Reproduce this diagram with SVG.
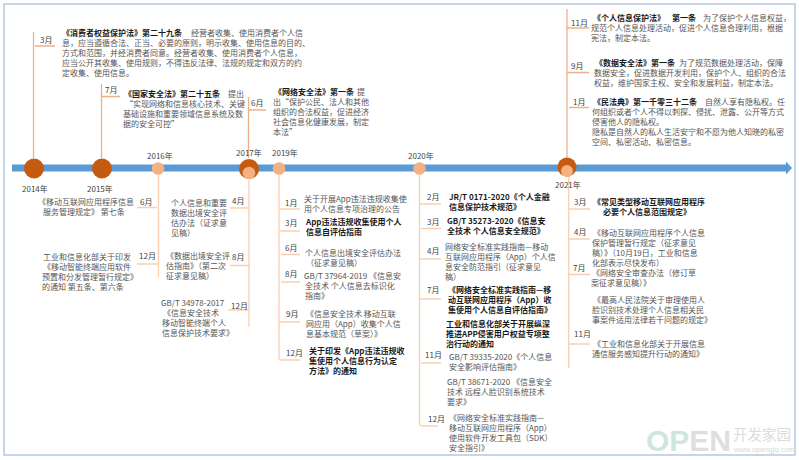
<svg xmlns="http://www.w3.org/2000/svg" width="799" height="460" viewBox="0 0 799 460">
<style>
text{font-family:"Noto Sans CJK SC","Liberation Sans",sans-serif;font-size:8px;fill:#555}
.b{font-weight:700;fill:#1a1a1a}
.m,.y{fill:#444}
.up{stroke:#eeb08c;stroke-width:1.3;fill:none}
.dn{stroke:#f9cfb2;stroke-width:1.3;fill:none}
.big{fill:#c55a11}
.small{fill:#f4b183}
</style>
<rect x="4" y="4" width="791" height="451" fill="#fff" stroke="#b4c7e0" stroke-width="1.5"/>

<g id="connectors">
<path class="up" d="M33.5 32V158M35 46H55M101.5 84V158M102 96.5H120M248.5 97V158M249 110H266M567 9V158M567 28H589M567 72.500H589M569 107.500H589"/>
<path class="dn" d="M158.500 174V277M137 207.500H157M137 264H158M249 180V327M230 208H250M230 265.500H250M228 310H249M279 175V360M280 209H300M280 231H300M281 254.500H300M281 282H300M279 322H300M280 360H300M419.500 175V423Q419.500 426 423 426H438M420 204H441M421 228.500H441M420 259H441M420 299H441M421 363H441M568.700 175V368M569 209H590M569 239H590M569 274.500H590M569 344H590"/>
</g>

<g id="timeline">
<path d="M12 164.500H786V161.500L792 168L786 174.500V171.500H12Z" fill="#5b9bd5"/>
<circle class="big" cx="34" cy="168.500" r="10"/>
<circle class="big" cx="102" cy="168.500" r="10"/>
<circle class="small" cx="158" cy="168.500" r="6.300"/>
<circle class="big" cx="249" cy="169" r="10"/>
<circle class="small" cx="249" cy="173" r="6.300"/>
<circle class="small" cx="279" cy="168.500" r="6.300"/>
<circle class="small" cx="419.500" cy="168.500" r="6.300"/>
<circle class="big" cx="567" cy="167" r="9.500"/>
<circle class="small" cx="567" cy="171" r="6"/>
</g>

<g id="years">
<text class="y" x="22" y="192">2014年</text>
<text class="y" x="87" y="192">2015年</text>
<text class="y" x="147" y="158.500">2016年</text>
<text class="y" x="236" y="156">2017年</text>
<text class="y" x="272" y="156">2019年</text>
<text class="y" x="408" y="159">2020年</text>
<text class="y" x="555" y="188">2021年</text>
</g>

<g id="n2014-03">
<text class="m" x="40" y="43">3月</text>
<text class="b" x="62" y="35.500">《消费者权益保护法》第二十九条</text>
<text x="191" y="35.500">经营者收集、使用消费者个人信</text>
<text x="62" y="45.500">息，应当遵循合法、正当、必要的原则，明示收集、使用信息的目的、</text>
<text x="62" y="55.500">方式和范围，并经消费者同意。经营者收集、使用消费者个人信息，</text>
<text x="62" y="65.500">应当公开其收集、使用规则，不得违反法律、法规的规定和双方的约</text>
<text x="62" y="75.500">定收集、使用信息。</text>
</g>
<g id="n2015-07">
<text class="m" x="105" y="93">7月</text>
<text class="b" x="124" y="96.500">《国家安全法》第二十五条</text>
<text x="228" y="96.500">提出</text>
<text x="125" y="106.500">“实现网络和信息核心技术、关键</text>
<text x="123" y="116.500">基础设施和重要领域信息系统及数</text>
<text x="123" y="126.500">据的安全可控”</text>
</g>
<g id="n2017-06">
<text class="m" x="251" y="106">6月</text>
<text class="b" x="274" y="95">《网络安全法》第一条</text>
<text x="357" y="95">提</text>
<text x="273" y="105">出“保护公民、法人和其他</text>
<text x="273" y="115">组织的合法权益，促进经济</text>
<text x="273" y="125">社会信息化健康发展，制定</text>
<text x="273" y="135">本法”</text>
</g>

<g id="n2016-06">
<text class="m" x="140" y="205">6月</text>
<text x="38" y="205">《移动互联网应用程序信息</text>
<text x="43" y="215">服务管理规定》 第七条</text>
</g>
<g id="n2016-12">
<text class="m" x="139" y="259">12月</text>
<text x="43" y="259.500">工业和信息化部关于印发</text>
<text x="43" y="269.500">《移动智能终端应用软件</text>
<text x="42" y="279.500">预置和分发管理暂行规定》</text>
<text x="42" y="289.500">的通知 第五条、第六条</text>
</g>
<g id="n2017-04">
<text class="m" x="232" y="204">4月</text>
<text x="171" y="206">个人信息和重要</text>
<text x="171" y="216">数据出境安全评</text>
<text x="171" y="226">估办法（证求意</text>
<text x="171" y="236">见稿）</text>
</g>
<g id="n2017-08">
<text class="m" x="232" y="260">8月</text>
<text x="166" y="259">《数据出境安全评</text>
<text x="166" y="269">估指南》（第二次</text>
<text x="166" y="279">征求意见稿）</text>
</g>
<g id="n2017-12">
<text class="m" x="231" y="309">12月</text>
<text x="161" y="305.500">GB/T 34978-2017</text>
<text x="163" y="315.500">《信息安全技术</text>
<text x="162" y="325.500">移动智能终端个人</text>
<text x="162" y="335.500">信息保护技术要求》</text>
</g>

<g id="n2019-01">
<text class="m" x="285" y="206">1月</text>
<text x="304" y="202">关于开展App违法违规收集使</text>
<text x="304" y="212">用个人信息专项治理的公告</text>
</g>
<g id="n2019-03">
<text class="m" x="285" y="226">3月</text>
<text class="b" x="306" y="224.500">App违法违规收集使用个人</text>
<text class="b" x="306" y="235">信息自评估指南</text>
</g>
<g id="n2019-06">
<text class="m" x="285" y="251">6月</text>
<text x="305" y="255.500">个人信息出境安全评估办法</text>
<text x="306" y="265.500">（征求意见稿）</text>
</g>
<g id="n2019-08">
<text class="m" x="285" y="277">8月</text>
<text x="304" y="278.500">GB/T 37964-2019 《信息安</text>
<text x="305" y="288.500">全技术 个人信息去标识化</text>
<text x="305" y="298.500">指南》</text>
</g>
<g id="n2019-09">
<text class="m" x="286" y="317">9月</text>
<text x="306" y="317">《信息安全技术 移动互联</text>
<text x="306" y="327">网应用（App）收集个人信</text>
<text x="306" y="337">息基本规范（草案）》</text>
</g>
<g id="n2019-12">
<text class="m" x="286" y="356">12月</text>
<text class="b" x="309" y="354">关于印发《App违法违规收</text>
<text class="b" x="309" y="364">集使用个人信息行为认定</text>
<text class="b" x="309" y="374">方法》的通知</text>
</g>

<g id="n2020-02">
<text class="m" x="427" y="200">2月</text>
<text class="b" x="449" y="199.500">JR/T 0171-2020《个人金融</text>
<text class="b" x="449" y="210">信息保护技术规范》</text>
</g>
<g id="n2020-03">
<text class="m" x="427" y="225">3月</text>
<text class="b" x="447" y="224">GB/T 35273-2020《信息安</text>
<text class="b" x="447" y="234">全技术 个人信息安全规范》</text>
</g>
<g id="n2020-04">
<text class="m" x="427" y="254">4月</text>
<text x="445" y="250">网络安全标准实践指南—移动</text>
<text x="445" y="260">互联网应用程序（App）个人信</text>
<text x="445" y="270">息安全防范指引（征求意见</text>
<text x="445" y="280">稿）</text>
</g>
<g id="n2020-07">
<text class="m" x="427" y="293">7月</text>
<text class="b" x="448" y="293">《网络安全标准实践指南—移</text>
<text class="b" x="448" y="303">动互联网应用程序（App）收</text>
<text class="b" x="448" y="313">集使用个人信息自评估指南》</text>
</g>
<g id="n2020-07b">
<text class="b" x="446" y="327">工业和信息化部关于开展纵深</text>
<text class="b" x="446" y="337">推进APP侵害用户权益专项整</text>
<text class="b" x="446" y="347">治行动的通知</text>
</g>
<g id="n2020-11">
<text class="m" x="425" y="358">11月</text>
<text x="449" y="360">GB/T 39335-2020《个人信息</text>
<text x="449" y="370">安全影响评估指南》</text>
</g>
<g id="n2020-11b">
<text x="447" y="385">GB/T 38671-2020 《信息安全</text>
<text x="447" y="395">技术 远程人脸识别系统技术</text>
<text x="447" y="405">要求》</text>
</g>
<g id="n2020-12">
<text class="m" x="428" y="422">12月</text>
<text x="449" y="421">《网络安全标准实践指南—</text>
<text x="449" y="431">移动互联网应用程序（App）</text>
<text x="449" y="441">使用软件开发工具包（SDK）</text>
<text x="449" y="451">安全指引》</text>
</g>

<g id="n2021-11-law">
<text class="m" x="571" y="26">11月</text>
<text class="b" x="593" y="21">《个人信息保护法》</text>
<text class="b" x="672" y="21">第一条</text>
<text x="703" y="21">为了保护个人信息权益，</text>
<text x="591" y="31">规范个人信息处理活动，促进个人信息合理利用，根据</text>
<text x="591" y="41">宪法，制定本法。</text>
</g>
<g id="n2021-09-law">
<text class="m" x="571" y="69">9月</text>
<text class="b" x="595" y="66">《数据安全法》第一条</text>
<text x="679" y="66">为了规范数据处理活动，保障</text>
<text x="594" y="76">数据安全，促进数据开发利用，保护个人、组织的合法</text>
<text x="594" y="86">权益，维护国家主权、安全和发展利益，制定本法。</text>
</g>
<g id="n2021-01-law">
<text class="m" x="573" y="105">1月</text>
<text class="b" x="593" y="105">《民法典》第一千零三十二条</text>
<text x="705" y="105">自然人享有隐私权。任</text>
<text x="592" y="115">何组织或者个人不得以刺探、侵扰、泄露、公开等方式</text>
<text x="592" y="125">侵害他人的隐私权。</text>
<text x="592" y="135">隐私是自然人的私人生活安宁和不愿为他人知晓的私密</text>
<text x="592" y="145">空间、私密活动、私密信息。</text>
</g>

<g id="n2021-03">
<text class="m" x="574" y="205">3月</text>
<text class="b" x="593" y="204.500">《常见类型移动互联网应用程序</text>
<text class="b" x="603" y="214.500">必要个人信息范围规定》</text>
</g>
<g id="n2021-04">
<text class="m" x="574" y="235">4月</text>
<text x="593" y="235.500">《移动互联网应用程序个人信息</text>
<text x="592" y="245.500">保护管理暂行规定（征求意见</text>
<text x="592" y="255.500">稿）》（10月19日，工业和信息</text>
<text x="592" y="265.500">化部表示尽快发布）</text>
</g>
<g id="n2021-07">
<text class="m" x="573" y="271">7月</text>
<text x="592" y="276">《网络安全审查办法（修订草</text>
<text x="591" y="286">案征求意见稿）》</text>
</g>
<g id="n2021-07b">
<text x="593" y="303">《最高人民法院关于审理使用人</text>
<text x="592" y="313">脸识别技术处理个人信息相关民</text>
<text x="592" y="323">事案件适用法律若干问题的规定》</text>
</g>
<g id="n2021-11">
<text class="m" x="574" y="337">11月</text>
<text x="593" y="347">《工业和信息化部关于开展信息</text>
<text x="592" y="357">通信服务感知提升行动的通知》</text>
</g>

<g id="brand">
<text x="646" y="451" style="font-family:'Liberation Sans',sans-serif;font-size:30px;font-weight:700;fill:#cfe6dd">OP<tspan style="fill:#dedede">EN</tspan></text>
<text x="733" y="440" style="font-size:14.500px;fill:#dcdcdc">开发家园</text>
<text x="734" y="452" style="font-family:'Liberation Sans',sans-serif;font-size:7.500px;fill:#d8d8d8">www.opengjq.com</text>
</g>
</svg>
